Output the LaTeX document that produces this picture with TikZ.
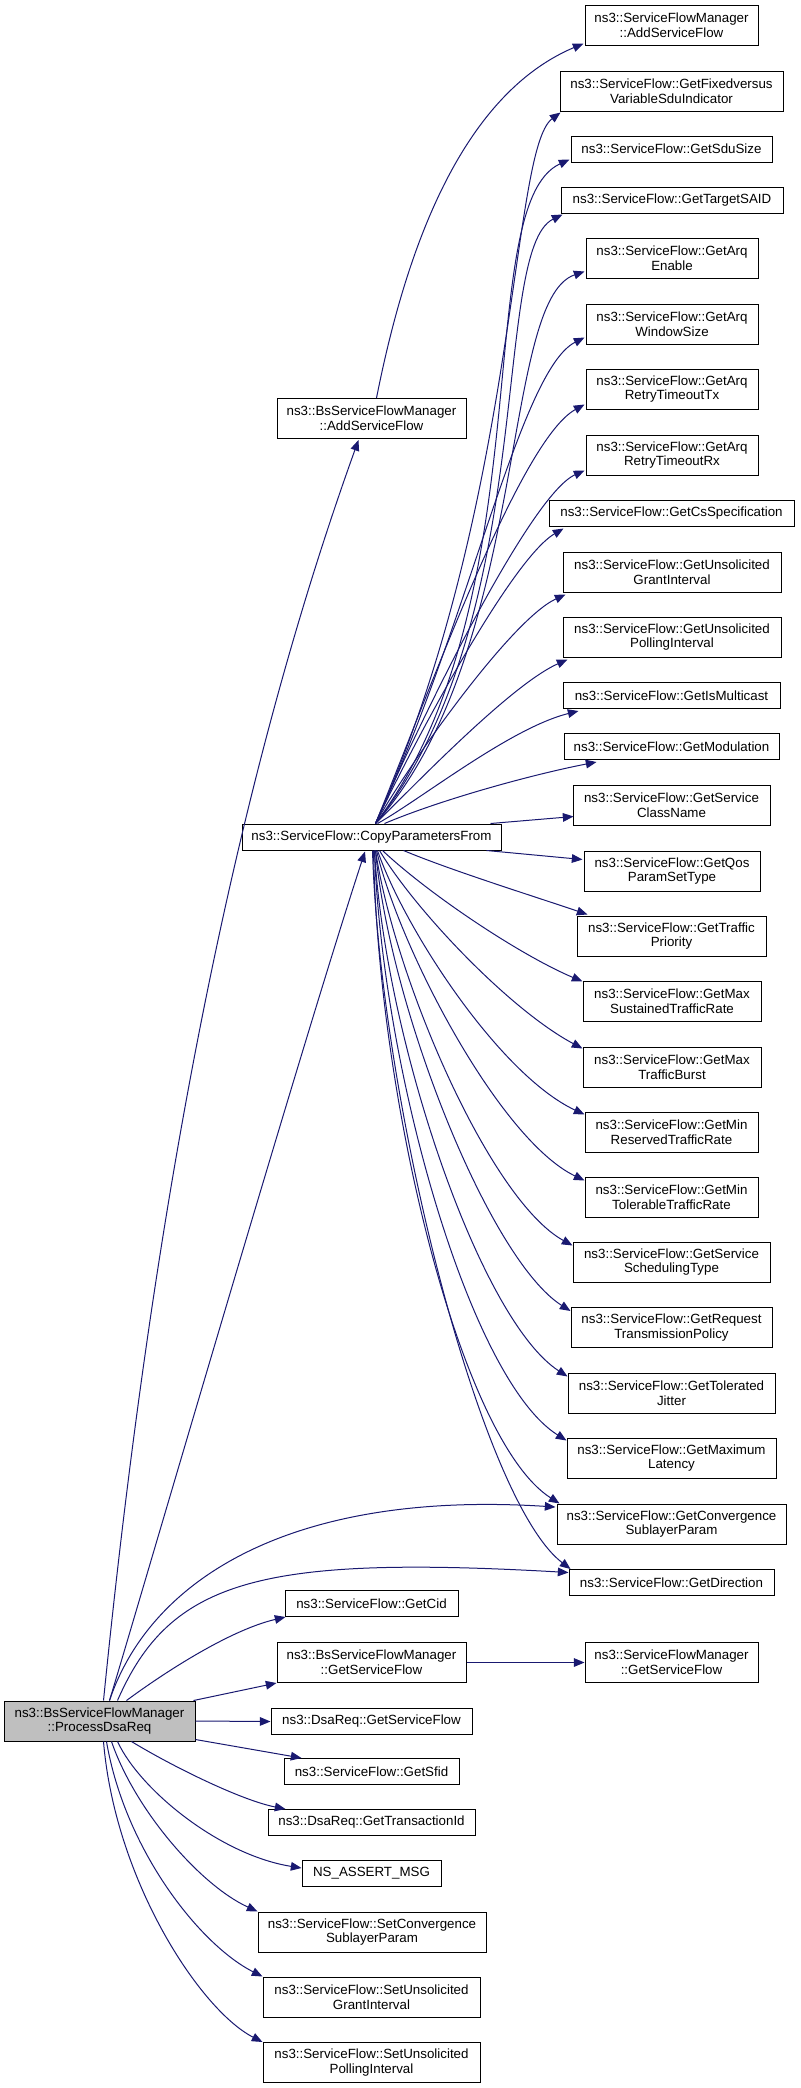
\documentclass[tikz,border=0pt]{standalone}
\usepackage{fontspec}
\setmainfont{Liberation Sans}
\usetikzlibrary{arrows.meta,calc}
\definecolor{edgeblue}{RGB}{25,25,112}
\definecolor{fillgray}{RGB}{191,191,191}
\begin{document}
\begin{tikzpicture}[x=0.75pt,y=-0.75pt,
  nd/.style 2 args={draw=black, fill=white, line width=0.75pt, minimum width=#1*0.75pt, minimum height=#2*0.75pt, inner sep=0pt, align=center, font=\fontsize{10}{11}\selectfont},
  cur/.style={fill=fillgray},
  ed/.style={draw=edgeblue, line width=0.75pt, -{Triangle[length=8pt,width=6.5pt]}}]
\useasboundingbox (0,0) rectangle (800,2088);
% right column
\node[nd={173}{40}] (sas) at (671.5,25) {ns3::ServiceFlowManager\\::AddServiceFlow};
\node[nd={223}{40}] (fixed) at (671.5,91) {ns3::ServiceFlow::GetFixedversus\\VariableSduIndicator};
\node[nd={201}{26}] (sdu) at (671.5,149) {ns3::ServiceFlow::GetSduSize};
\node[nd={222}{26}] (said) at (672,200) {ns3::ServiceFlow::GetTargetSAID};
\node[nd={172}{40}] (arqen) at (672,258) {ns3::ServiceFlow::GetArq\\Enable};
\node[nd={172}{40}] (arqws) at (672,324) {ns3::ServiceFlow::GetArq\\WindowSize};
\node[nd={172}{40}] (rtx) at (672,389) {ns3::ServiceFlow::GetArq\\RetryTimeoutTx};
\node[nd={172}{40}] (rrx) at (672,455) {ns3::ServiceFlow::GetArq\\RetryTimeoutRx};
\node[nd={245}{26}] (cs) at (671.5,513) {ns3::ServiceFlow::GetCsSpecification};
\node[nd={218}{40}] (ugi) at (672,572) {ns3::ServiceFlow::GetUnsolicited\\GrantInterval};
\node[nd={218}{40}] (upi) at (672,637) {ns3::ServiceFlow::GetUnsolicited\\PollingInterval};
\node[nd={217}{26}] (mc) at (671.5,695.5) {ns3::ServiceFlow::GetIsMulticast};
\node[nd={215}{26}] (mod) at (671.5,746.5) {ns3::ServiceFlow::GetModulation};
\node[nd={197}{40}] (scn) at (671.5,805) {ns3::ServiceFlow::GetService\\ClassName};
\node[nd={176}{40}] (qos) at (672,871) {ns3::ServiceFlow::GetQos\\ParamSetType};
\node[nd={189}{40}] (tp) at (671.5,936) {ns3::ServiceFlow::GetTraffic\\Priority};
\node[nd={178}{40}] (mst) at (672,1001) {ns3::ServiceFlow::GetMax\\SustainedTrafficRate};
\node[nd={178}{40}] (mtb) at (672,1067) {ns3::ServiceFlow::GetMax\\TrafficBurst};
\node[nd={173}{40}] (mrr) at (671.5,1132) {ns3::ServiceFlow::GetMin\\ReservedTrafficRate};
\node[nd={173}{40}] (mtr) at (671.5,1197) {ns3::ServiceFlow::GetMin\\TolerableTrafficRate};
\node[nd={197}{40}] (sst) at (671.5,1262) {ns3::ServiceFlow::GetService\\SchedulingType};
\node[nd={201}{40}] (rtp) at (671.5,1327.5) {ns3::ServiceFlow::GetRequest\\TransmissionPolicy};
\node[nd={207}{40}] (tj) at (671.5,1393) {ns3::ServiceFlow::GetTolerated\\Jitter};
\node[nd={209}{40}] (ml) at (671.5,1458) {ns3::ServiceFlow::GetMaximum\\Latency};
\node[nd={229}{40}] (gcsp) at (671.5,1524) {ns3::ServiceFlow::GetConvergence\\SublayerParam};
\node[nd={205}{26}] (gd) at (671.5,1582.5) {ns3::ServiceFlow::GetDirection};
\node[nd={173}{40}] (sfgs) at (671.5,1662.5) {ns3::ServiceFlowManager\\::GetServiceFlow};
% middle column
\node[nd={189}{40}] (bas) at (371.5,418.5) {ns3::BsServiceFlowManager\\::AddServiceFlow};
\node[nd={259}{26}] (cpf) at (371.5,837) {ns3::ServiceFlow::CopyParametersFrom};
\node[nd={173}{26}] (gc) at (371.5,1603.5) {ns3::ServiceFlow::GetCid};
\node[nd={189}{40}] (bgs) at (371.5,1662.5) {ns3::BsServiceFlowManager\\::GetServiceFlow};
\node[nd={201}{26}] (dgs) at (371.5,1721.5) {ns3::DsaReq::GetServiceFlow};
\node[nd={175}{26}] (gs) at (371.5,1771.5) {ns3::ServiceFlow::GetSfid};
\node[nd={207}{26}] (gt) at (371.5,1822.5) {ns3::DsaReq::GetTransactionId};
\node[nd={139}{26}] (na) at (371.5,1873.5) {NS\_ASSERT\_MSG};
\node[nd={228}{40}] (scs) at (372,1932) {ns3::ServiceFlow::SetConvergence\\SublayerParam};
\node[nd={217}{40}] (sug) at (371.5,1997) {ns3::ServiceFlow::SetUnsolicited\\GrantInterval};
\node[nd={217}{40}] (sup) at (371.5,2062.5) {ns3::ServiceFlow::SetUnsolicited\\PollingInterval};
% left
\node[nd={191}{40}, cur] (pd) at (99.5,1721) {ns3::BsServiceFlowManager\\::ProcessDsaReq};
% edges from ProcessDsaReq
\draw[ed] ($(pd.north)+(4,0)$) .. controls (143.5,1301) and (214.5,840) .. ($(bas.south)+(-13,1)$);
\draw[ed] ($(pd.north)+(10,0)$) .. controls (140,1600) and (300,1050) .. ($(cpf.south)+(-6.5,1)$);
\draw[ed] ($(pd.north)+(10,0)$) .. controls (150,1580) and (290,1490) .. ($(gcsp.west)+(-1,-17)$);
\draw[ed] ($(pd.north)+(18,0)$) .. controls (170,1580) and (260,1555) .. ($(gd.west)+(0,-10)$);
\draw[ed] ($(pd.north)+(27,0)$) .. controls (165,1672) and (230,1630) .. ($(gc.south west)+(1,0)$);
\draw[ed] ($(pd.north east)+(-2,0)$) -- (bgs.south west);
\draw[ed] (pd.east) -- (dgs.west);
\draw[ed] ($(pd.south east)+(0,-2)$) -- ($(gs.north west)+(18,0)$);
\draw[ed] ($(pd.south)+(32,0)$) .. controls (170,1765) and (240,1800) .. ($(gt.north west)+(18,0)$);
\draw[ed] ($(pd.south)+(18,0)$) .. controls (140,1790) and (220,1855) .. ($(na.west)+(0,-5.5)$);
\draw[ed] ($(pd.south)+(12,0)$) .. controls (135,1810) and (200,1885) .. (scs.north west);
\draw[ed] ($(pd.south)+(7,0)$) .. controls (125,1850) and (200,1945) .. (sug.north west);
\draw[ed] ($(pd.south)+(4,0)$) .. controls (115,1880) and (200,2010) .. (sup.north west);
% manager edges
\draw[ed] ($(bas.north)+(5,0)$) .. controls (400,280) and (450,100) .. ($(sas.south west)+(-1,-2)$);
\draw[ed] (bgs.east) -- (sfgs.west);
% CopyParametersFrom top edges
\draw[ed] ($(cpf.north)+(4,0)$) .. controls (520,500) and (510,150) .. ($(fixed.south west)+(1,1)$);
\draw[ed] ($(cpf.north)+(4,0)$) .. controls (545,600) and (470,205) .. ($(sdu.south west)+(-1,-3)$);
\draw[ed] ($(cpf.north)+(4,0)$) .. controls (540,620) and (490,250) .. ($(said.south west)+(2,1)$);
\draw[ed] ($(cpf.north)+(4,0)$) .. controls (530,650) and (500,300) .. ($(arqen.south west)+(-1,-7)$);
\draw[ed] ($(cpf.north)+(4,0)$) .. controls (470,620) and (520,370) .. ($(arqws.south west)+(-1,-7)$);
\draw[ed] ($(cpf.north)+(4,0)$) .. controls (430,690) and (520,440) .. ($(rtx.south west)+(-1,-5)$);
\draw[ed] ($(cpf.north)+(4,0)$) .. controls (420,720) and (530,495) .. ($(rrx.south west)+(-1,-5)$);
\draw[ed] ($(cpf.north)+(4,0)$) .. controls (410,750) and (510,560) .. ($(cs.south west)+(15,2)$);
\draw[ed] ($(cpf.north)+(4,0)$) .. controls (405,770) and (510,620) .. ($(ugi.south west)+(3,2)$);
\draw[ed] ($(cpf.north)+(4,0)$) .. controls (410,790) and (510,685) .. ($(upi.south west)+(5,2)$);
\draw[ed] ($(cpf.north)+(6,0)$) .. controls (420,800) and (510,728) .. ($(mc.south west)+(16,2)$);
\draw[ed] ($(cpf.north)+(13,0)$) .. controls (440,800) and (530,775) .. ($(mod.south west)+(33,2)$);
\draw[ed] ($(cpf.north east)+(-11,0)$) -- ($(scn.south west)+(1,-9)$);
% CopyParametersFrom bottom edges
\draw[ed] ($(cpf.south east)+(-15,0)$) -- ($(qos.north west)+(-1,9)$);
\draw[ed] ($(cpf.south)+(32,0)$) .. controls (450,870) and (530,895) .. ($(tp.north west)+(11,-1)$);
\draw[ed] ($(cpf.south)+(11,0)$) .. controls (430,895) and (520,955) .. ($(mst.north west)+(0,1)$);
\draw[ed] ($(cpf.south)+(8,0)$) .. controls (415,910) and (510,1010) .. ($(mtb.north west)+(0,2)$);
\draw[ed] ($(cpf.south)+(6,0)$) .. controls (405,930) and (500,1075) .. ($(mrr.north west)+(0,3)$);
\draw[ed] ($(cpf.south)+(5,0)$) .. controls (400,950) and (500,1140) .. ($(mtr.north west)+(0,4)$);
\draw[ed] ($(cpf.south)+(4,0)$) .. controls (395,980) and (490,1200) .. ($(sst.north west)+(0,4)$);
\draw[ed] ($(cpf.south)+(4,0)$) .. controls (390,1010) and (490,1260) .. ($(rtp.north west)+(0,4)$);
\draw[ed] ($(cpf.south)+(3,0)$) .. controls (385,1040) and (480,1320) .. ($(tj.north west)+(0,4)$);
\draw[ed] ($(cpf.south)+(3,0)$) .. controls (382,1070) and (470,1380) .. ($(ml.north west)+(0,3)$);
\draw[ed] ($(cpf.south)+(2,0)$) .. controls (378,1100) and (460,1440) .. ($(gcsp.north west)+(3,0)$);
\draw[ed] ($(cpf.south)+(1,0)$) .. controls (380,1100) and (480,1500) .. ($(gd.north west)+(2,0)$);
\end{tikzpicture}
\end{document}
